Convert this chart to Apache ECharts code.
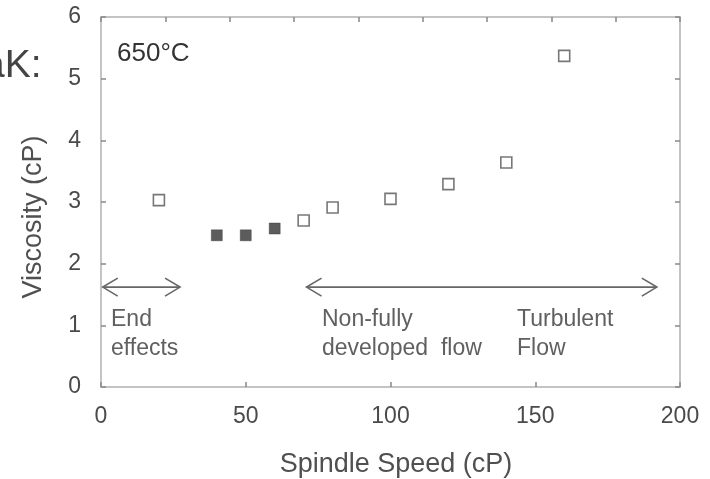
<!DOCTYPE html>
<html>
<head>
<meta charset="utf-8">
<script src="https://cdn.jsdelivr.net/npm/echarts@6/dist/echarts.min.js"></script>
<style>html,body{margin:0;padding:0;background:#fff}#c{width:710px;height:479px}</style>
</head>
<body>
<div id="c"></div>
<script>
// Data
const openX = [20, 70, 80, 100, 120, 140, 160];
const openY = [3.03, 2.70, 2.91, 3.05, 3.29, 3.64, 5.37];
const filledX = [40, 50, 60];
const filledY = [2.46, 2.46, 2.57];
const xTicks = [0, 50, 100, 150, 200];
const yTicks = [0, 1, 2, 3, 4, 5, 6];
// Annotation arrows (double headed), in data units
const arrowStartX = [0.6, 71];
const arrowEndX = [27.3, 192];
const arrowY = [1.62, 1.62];

const FONT = "'Liberation Sans', Arial, sans-serif";
const chart = echarts.init(document.getElementById('c'), null, {renderer: 'canvas'});

const arrowData = arrowStartX.map((s, i) => [s, arrowEndX[i], arrowY[i]]);

chart.setOption({
  animation: false,
  backgroundColor: '#fff',
  grid: {left: 101, right: 30, top: 17, bottom: 92},
  xAxis: [{
    type: 'value', min: xTicks[0], max: xTicks[xTicks.length - 1], interval: 50,
    axisLine: {lineStyle: {color: '#c4c4c4', width: 2}},
    axisTick: {inside: true, length: 5, lineStyle: {color: '#888', width: 1.5}},
    splitLine: {show: false},
    axisLabel: {fontFamily: FONT, fontSize: 23, color: '#4a4a4a', margin: 18}
  }, {
    type: 'value', position: 'top', min: 0, max: 9, interval: 1,
    axisLine: {show: true, onZero: false, lineStyle: {color: '#c4c4c4', width: 2}},
    axisTick: {show: true, inside: true, length: 5, lineStyle: {color: '#888', width: 1.5}},
    splitLine: {show: false}, axisLabel: {show: false}
  }],
  yAxis: [{
    type: 'value', min: yTicks[0], max: yTicks[yTicks.length - 1], interval: 1,
    axisLine: {show: true, lineStyle: {color: '#c4c4c4', width: 2}},
    axisTick: {show: true, inside: true, length: 5, lineStyle: {color: '#888', width: 1.5}},
    splitLine: {show: false},
    axisLabel: {fontFamily: FONT, fontSize: 23, color: '#4a4a4a', margin: 20}
  }, {
    type: 'value', position: 'right', min: 0, max: 6, interval: 1,
    axisLine: {show: true, onZero: false, lineStyle: {color: '#c4c4c4', width: 2}},
    axisTick: {show: true, inside: true, length: 5, lineStyle: {color: '#888', width: 1.5}},
    splitLine: {show: false}, axisLabel: {show: false}
  }],
  series: [{
    type: 'custom',
    xAxisIndex: 0, yAxisIndex: 0,
    data: arrowData,
    silent: true,
    renderItem: function (params, api) {
      const p0 = api.coord([api.value(0), api.value(2)]);
      const p1 = api.coord([api.value(1), api.value(2)]);
      const st = {stroke: '#666', lineWidth: 1.6, fill: null};
      const hx = 15, hy = 9;
      return {type: 'group', children: [
        {type: 'line', shape: {x1: p0[0], y1: p0[1], x2: p1[0], y2: p1[1]}, style: st},
        {type: 'polyline', shape: {points: [[p0[0] + hx, p0[1] - hy], [p0[0], p0[1]], [p0[0] + hx, p0[1] + hy]]}, style: st},
        {type: 'polyline', shape: {points: [[p1[0] - hx, p1[1] - hy], [p1[0], p1[1]], [p1[0] - hx, p1[1] + hy]]}, style: st}
      ]};
    }
  }, {
    type: 'scatter', xAxisIndex: 0, yAxisIndex: 0,
    data: openX.map((x, i) => [x, openY[i]]),
    symbol: 'rect', symbolSize: 11,
    itemStyle: {color: '#fff', borderColor: '#555', borderWidth: 1.6}
  }, {
    type: 'scatter', xAxisIndex: 0, yAxisIndex: 0,
    data: filledX.map((x, i) => [x, filledY[i]]),
    symbol: 'rect', symbolSize: 11,
    itemStyle: {color: '#333', borderColor: '#333', borderWidth: 0.5}
  }],
  graphic: [
    {type: 'text', left: 117, top: 41, style: {text: '650°C', font: '26px ' + FONT, fill: '#333'}},
    {type: 'text', x: -17, y: 66, style: {text: 'aK:', font: '39px ' + FONT, fill: '#444', textVerticalAlign: 'middle'}},
    {type: 'text', x: 396, y: 465, style: {text: 'Spindle Speed (cP)', font: '27px ' + FONT, fill: '#505050', textAlign: 'center', textVerticalAlign: 'middle'}},
    {type: 'text', x: 34, y: 217, rotation: Math.PI / 2, style: {text: 'Viscosity (cP)', font: '27px ' + FONT, fill: '#505050', textAlign: 'center', textVerticalAlign: 'middle'}},
    {type: 'text', x: 111, y: 320, style: {text: 'End', font: '23px ' + FONT, fill: '#606060', textVerticalAlign: 'middle'}},
    {type: 'text', x: 111, y: 349, style: {text: 'effects', font: '23px ' + FONT, fill: '#606060', textVerticalAlign: 'middle'}},
    {type: 'text', x: 322, y: 320, style: {text: 'Non-fully', font: '23px ' + FONT, fill: '#606060', textVerticalAlign: 'middle'}},
    {type: 'text', x: 322, y: 349, style: {text: 'developed  flow', font: '23px ' + FONT, fill: '#606060', textVerticalAlign: 'middle'}},
    {type: 'text', x: 517, y: 320, style: {text: 'Turbulent', font: '23px ' + FONT, fill: '#606060', textVerticalAlign: 'middle'}},
    {type: 'text', x: 517, y: 349, style: {text: 'Flow', font: '23px ' + FONT, fill: '#606060', textVerticalAlign: 'middle'}}
  ]
});
</script>
</body>
</html>
